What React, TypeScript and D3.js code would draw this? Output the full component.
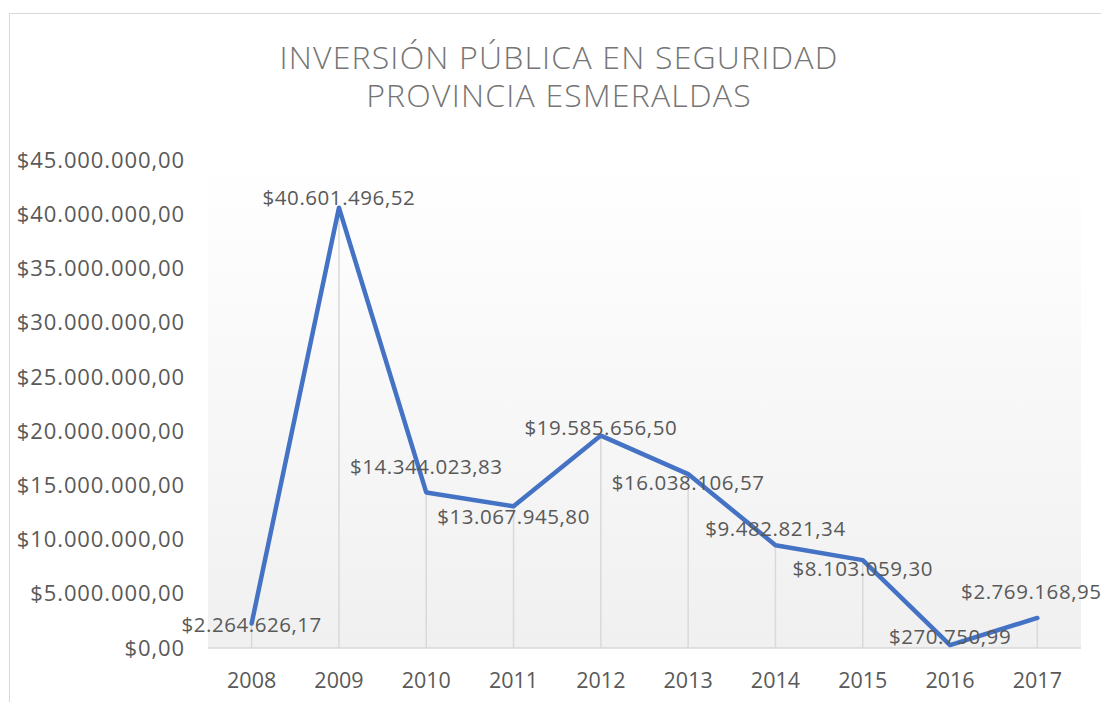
import React from "react";
import * as d3 from "d3";

// chart data
const years = ["2008", "2009", "2010", "2011", "2012", "2013", "2014", "2015", "2016", "2017"];
const inversion = [
  2264626.17, 40601496.52, 14344023.83, 13067945.8, 19585656.5,
  16038106.57, 9482821.34, 8103059.3, 270750.99, 2769168.95,
];
const yTicks = [0, 5e6, 10e6, 15e6, 20e6, 25e6, 30e6, 35e6, 40e6, 45e6];
const titleLines = ["INVERSIÓN PÚBLICA EN SEGURIDAD", "PROVINCIA ESMERALDAS"];

// manual label nudges (like the hand-placed labels in the original)
const labelShift = [
  [0, 1], [0, -10], [0, -26], [0, 11], [0, -8],
  [0, 9], [0, -16], [0, 9], [0, -8], [-6, -26],
];

const width = 1101,
  height = 702;
const plot = { left: 208, right: 1081, top: 160, bottom: 648 };
const fontFamily = "'Open Sans', 'Noto Sans', sans-serif";
const axisColor = "#595959";

const es = d3.formatLocale({
  decimal: ",",
  thousands: ".",
  grouping: [3],
  currency: ["$", ""],
});
const money = es.format("$,.2f");

export default function App() {
  const x = d3.scaleBand().domain(years).range([plot.left, plot.right]).padding(0);
  const y = d3.scaleLinear().domain([0, 45e6]).range([plot.bottom, plot.top]);
  const cx = (d: string) => (x(d) as number) + x.bandwidth() / 2;

  const line = d3
    .line<number>()
    .x((d, i) => cx(years[i]))
    .y(d => y(d));

  return (
    <svg
      width={width}
      height={height}
      style={{ position: "absolute", left: 0, top: 0, background: "#fff" }}
      fontFamily={fontFamily}
    >
      <defs>
        <linearGradient id="plotFill" x1="0" y1="0" x2="0" y2="1">
          <stop offset="0%" stopColor="#ffffff" />
          <stop offset="100%" stopColor="#f0f0f0" />
        </linearGradient>
      </defs>

      {/* chart frame */}
      <rect x={9.5} y={13.5} width={1100} height={700} fill="none" stroke="#d9d9d9" strokeWidth={1} />

      {/* two-line title as one text block */}
      <text
        textAnchor="middle"
        fontSize={32}
        fontWeight={300}
        letterSpacing={1.2}
        fill="#757575"
      >
        {titleLines.map((t, i) => (
          <tspan key={t} x={559} y={69 + i * 38}>
            {t}
          </tspan>
        ))}
      </text>

      <rect
        x={plot.left}
        y={plot.top}
        width={plot.right - plot.left}
        height={plot.bottom - plot.top}
        fill="url(#plotFill)"
      />

      {/* y axis labels */}
      {yTicks.map(t => (
        <text
          key={t}
          x={185}
          y={y(t)}
          dy="0.35em"
          textAnchor="end"
          fontSize={22}
          letterSpacing={0.9}
          fill={axisColor}
        >
          {money(t)}
        </text>
      ))}

      {/* drop lines */}
      {inversion.map((v, i) => (
        <line
          key={years[i]}
          x1={cx(years[i])}
          x2={cx(years[i])}
          y1={y(v)}
          y2={plot.bottom}
          stroke="#d9d9d9"
          strokeWidth={1.5}
        />
      ))}

      <line x1={plot.left} x2={plot.right} y1={plot.bottom} y2={plot.bottom} stroke="#d9d9d9" strokeWidth={1.5} />

      {/* x axis labels */}
      {years.map(d => (
        <text key={d} x={cx(d)} y={688} textAnchor="middle" fontSize={21.5} fill={axisColor}>
          {d}
        </text>
      ))}

      <path
        d={line(inversion) || ""}
        fill="none"
        stroke="#4472C4"
        strokeWidth={4.5}
        strokeLinejoin="round"
        strokeLinecap="round"
      />

      {/* data labels */}
      {inversion.map((v, i) => (
        <text
          key={"l" + years[i]}
          x={cx(years[i]) + labelShift[i][0]}
          y={y(v) + labelShift[i][1]}
          dy="0.35em"
          textAnchor="middle"
          fontSize={20.5}
          letterSpacing={0.55}
          fill={axisColor}
        >
          {money(v)}
        </text>
      ))}
    </svg>
  );
}
